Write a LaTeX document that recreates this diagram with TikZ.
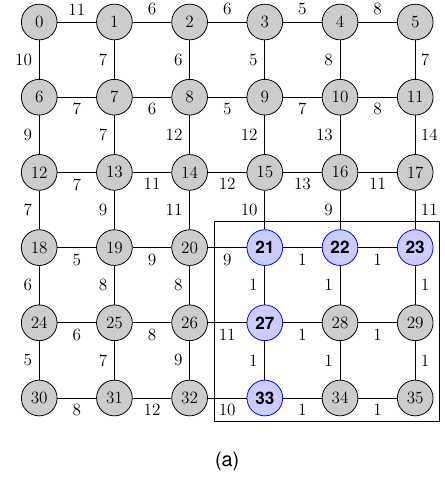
\documentclass[tikz,border=0pt]{standalone}
\usepackage{fontspec}
\setsansfont{TeX Gyre Heros}
\usetikzlibrary{calc}

\begin{document}
\begin{tikzpicture}[font=\fontsize{13}{15}\selectfont,
 vx/.style={circle,draw,fill=black!20,minimum size=0.95cm,inner sep=0pt,line width=0.6pt},
 hi/.style={vx,draw=blue,fill=blue!20,font=\fontsize{13}{15}\selectfont\sffamily\bfseries},
 wt/.style={inner sep=0pt},
 ed/.style={line width=0.6pt}]
\useasboundingbox (-1.043,0.585) rectangle (10.766,-12.101);
% vertices
\foreach \i in {0,...,20,24,25,26,28,29,30,31,32,34,35}{
 \pgfmathtruncatemacro{\c}{mod(\i,6)}
 \pgfmathtruncatemacro{\r}{div(\i,6)}
 \node[vx] (n\i) at (2*\c,-2*\r) {\i};
}
\foreach \i in {21,22,23,27,33}{
 \pgfmathtruncatemacro{\c}{mod(\i,6)}
 \pgfmathtruncatemacro{\r}{div(\i,6)}
 \node[hi] (n\i) at (2*\c,-2*\r) {\i};
}
% horizontal edges
\foreach \a/\w in {0/11,1/6,2/6,3/5,4/8}{
 \pgfmathtruncatemacro{\b}{\a+1}
 \draw[ed] (n\a) -- node[wt,above=0.17cm]{\w} (n\b);
}
\foreach \a/\w in {6/7,7/6,8/5,9/7,10/8,12/7,13/11,14/12,15/13,16/11,18/5,19/9,20/9,21/1,22/1,24/6,25/8,26/11,27/1,28/1,30/8,31/12,32/10,33/1,34/1}{
 \pgfmathtruncatemacro{\b}{\a+1}
 \draw[ed] (n\a) -- node[wt,below=0.15cm]{\w} (n\b);
}
% vertical edges
\foreach \a/\w in {0/10,1/7,2/6,3/5,4/8,6/9,7/7,8/12,9/12,10/13,12/7,13/9,14/11,15/10,16/9,18/6,19/8,20/8,21/1,22/1,24/5,25/7,26/9,27/1,28/1}{
 \pgfmathtruncatemacro{\b}{\a+6}
 \draw[ed] (n\a) -- node[wt,left=0.18cm]{\w} (n\b);
}
\foreach \a/\w in {5/7,11/14,17/11,23/1,29/1}{
 \pgfmathtruncatemacro{\b}{\a+6}
 \draw[ed] (n\a) -- node[wt,right=0.14cm]{\w} (n\b);
}
% selected block
\draw[ed] ($(n21)+(-1.35,0.69)$) rectangle ($(n35)+(0.65,-0.61)$);
\node[font=\sffamily\fontsize{15}{18}\selectfont] (cap) at (5,-11.69) {(a)};
\end{tikzpicture}
\end{document}
